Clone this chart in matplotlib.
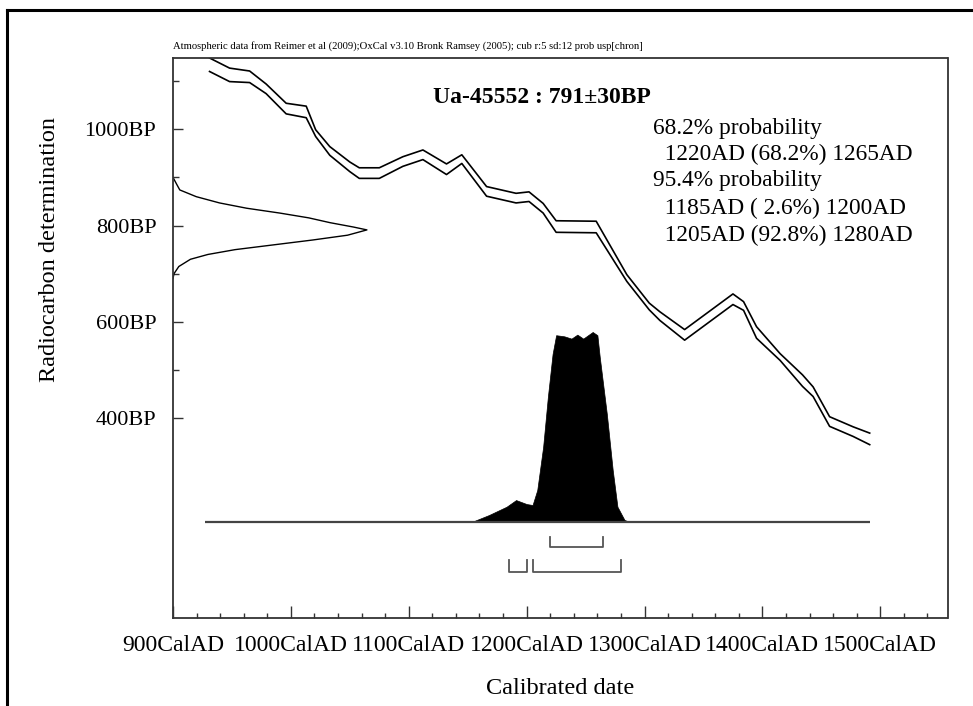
import matplotlib
matplotlib.use("Agg")
import matplotlib.pyplot as plt
from matplotlib.lines import Line2D
import numpy as np

plt.rcParams['font.family'] = ['Liberation Serif', 'DejaVu Serif']

# calibration curve (centre of the band)
curve_year = [931, 948, 965, 979, 996, 1013, 1021, 1033, 1050, 1058, 1075, 1095, 1112,
              1132, 1145, 1166, 1191, 1202, 1214, 1225, 1259, 1285, 1304, 1313, 1334,
              1375, 1384, 1395, 1415, 1434, 1443, 1457, 1477, 1491]
curve_bp = [1134, 1113, 1109, 1084, 1043, 1036, 992, 955, 922, 909, 909, 933, 947,
            917, 938, 871, 857, 860, 836, 798, 797, 691, 632, 612, 573,
            647, 633, 578, 527, 478, 455, 393, 372, 357]
curve_sigma = [14, 14, 12, 10, 11, 12, 7, 9, 10, 11, 11, 10, 10,
               11, 9, 10, 10, 10, 10, 12, 12, 7, 7, 9, 11,
               11, 9, 12, 7, 12, 10, 10, 10, 12]

# radiocarbon date distribution on the y axis (relative height)
rc_bp = [900, 885, 874, 860, 847, 836, 826, 816, 806, 797, 791,
         780, 770, 760, 750, 740, 730, 715, 700, 690]
rc_height = [0.0, 0.02, 0.035, 0.12, 0.24, 0.38, 0.55, 0.70, 0.81, 0.93, 1.0,
             0.90, 0.72, 0.52, 0.32, 0.18, 0.09, 0.03, 0.005, 0.0]

# calibrated distribution (relative probability)
cal_year = [1154, 1168, 1183, 1191, 1200, 1205, 1209, 1214, 1218, 1222, 1225, 1232,
            1238, 1243, 1248, 1256, 1260, 1262, 1268, 1273, 1277, 1283, 1287]
cal_prob = [0.0, 0.035, 0.079, 0.114, 0.093, 0.088, 0.167, 0.395, 0.658, 0.884, 0.983,
            0.977, 0.965, 0.986, 0.965, 1.0, 0.983, 0.868, 0.568, 0.272, 0.079, 0.009, 0.0]

# ranges
range_68 = [(1220, 1265)]
range_95 = [(1185, 1200), (1205, 1280)]

info_lines = ["68.2% probability",
              "  1220AD (68.2%) 1265AD",
              "95.4% probability",
              "  1185AD ( 2.6%) 1200AD",
              "  1205AD (92.8%) 1280AD"]

x_major = list(range(900, 1600, 100))
x_minor = [y for y in range(920, 1560, 20) if y % 100 != 0]
y_major = [400, 600, 800, 1000]
y_minor = [500, 700, 900, 1100]

W, H = 973, 706
fig = plt.figure(figsize=(W / 100, H / 100), dpi=100)
ax = fig.add_axes([173 / W, 1 - 618 / H, 774.5 / W, 560 / H])
ax.set_xlim(900, 1557)
ax.set_ylim(-15, 1148)

edge = '#333333'
# calibration curve drawn as a double line
cy = np.array(curve_year)
cb = np.array(curve_bp)
cs = np.array(curve_sigma)
ax.plot(cy, cb + cs, color='black', lw=1.2)
ax.plot(cy, cb - cs, color='black', lw=1.2)

# radiocarbon gaussian on the left
rc_scale = 164.5
ax.plot(900 + np.array(rc_height) * rc_scale, rc_bp, color='black', lw=1.0)

# calibrated distribution
base = 185
prob_scale = 394
ax.plot([927, 1491], [base, base], color='#444444', lw=1.6, solid_capstyle='butt')
ax.fill_between(cal_year, base, base + np.array(cal_prob) * prob_scale,
                color='black', lw=0.5)

# range brackets
def bracket(lo, hi, level, tick):
    ax.plot([lo, lo, hi, hi], [level + tick, level, level, level + tick],
            color='#555555', lw=1.3)

for lo, hi in range_68:
    bracket(lo, hi, 132, 22)
for lo, hi in range_95:
    bracket(lo, hi, 80, 26)

# axes styling
for sp in ax.spines.values():
    sp.set_color(edge)
    sp.set_linewidth(1.3)
ax.set_xticks(x_major)
ax.set_xticklabels([f"{y}CalAD" for y in x_major])
ax.set_xticks(x_minor, minor=True)
ax.set_yticks(y_major)
ax.set_yticklabels([f"{b}BP" for b in y_major])
ax.set_yticks(y_minor, minor=True)
ax.tick_params(axis='x', which='major', direction='in', length=8.6, width=1.0,
               color=edge, labelsize=17, pad=12)
ax.tick_params(axis='x', which='minor', direction='in', length=3.6, width=1.0, color=edge)
ax.tick_params(axis='y', which='major', direction='in', length=7.2, width=1.0,
               color=edge, labelsize=16, pad=12)
ax.tick_params(axis='y', which='minor', direction='in', length=4.3, width=1.0, color=edge)

ax.text(0.476, 0.929, "Ua-45552 : 791±30BP", transform=ax.transAxes,
        ha='center', va='center', fontsize=17, fontweight='bold')
info_y = [0.8745, 0.827, 0.782, 0.732, 0.684]
for line, yy in zip(info_lines, info_y):
    ax.text(0.62, yy, line, transform=ax.transAxes, ha='left', va='center', fontsize=16.8)

fig.text(173 / W, 1 - 46 / H,
         "Atmospheric data from Reimer et al (2009);OxCal v3.10 Bronk Ramsey (2005); cub r:5 sd:12 prob usp[chron]",
         ha='left', va='center', fontsize=7.7)
fig.text(560 / W, 1 - 688 / H, "Calibrated date", ha='center', va='center', fontsize=17.5)
fig.text(50 / W, 1 - 249 / H, "Radiocarbon determination", ha='center', va='center',
         rotation=90, fontsize=17.5)

# outer frame
fig.add_artist(Line2D([7 / W, 7 / W], [0, 1 - 10 / H], color='black', lw=2.2,
                      transform=fig.transFigure))
fig.add_artist(Line2D([7 / W, 1], [1 - 10 / H, 1 - 10 / H], color='black', lw=2.2,
                      transform=fig.transFigure))

fig.savefig("out.png", dpi=100)
